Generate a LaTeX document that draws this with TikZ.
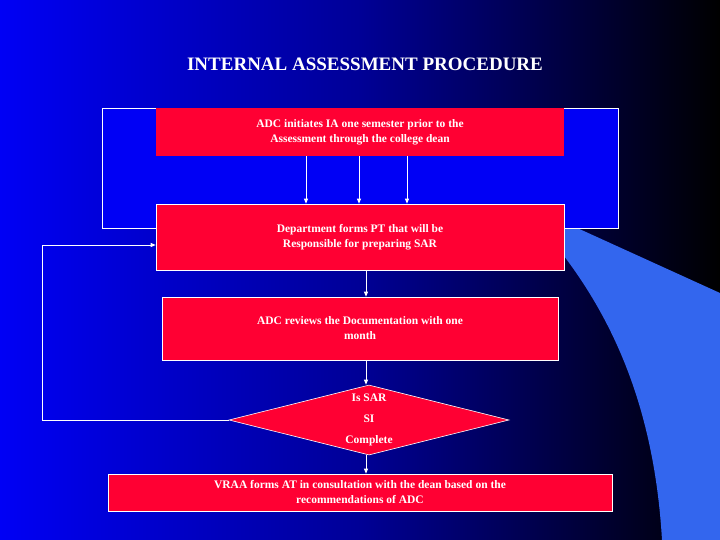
\documentclass[tikz,border=0pt]{standalone}
\usepackage{fontspec}
\setmainfont{Liberation Serif}
\usetikzlibrary{shapes.geometric,arrows.meta}
\definecolor{bgblue}{RGB}{0,0,245}
\definecolor{boxred}{RGB}{255,0,51}
\definecolor{swoosh}{RGB}{51,102,238}
\begin{document}
\begin{tikzpicture}[x=1pt,y=-1pt,
  rbox/.style={fill=boxred,draw=white,line width=0.6pt,text=white,font=\bfseries\fontsize{11.5}{15}\selectfont,align=center,inner sep=0pt},
  conn/.style={draw=white,line width=0.8pt,-{Triangle[length=5pt,width=4pt]}}]
\useasboundingbox (0,0) rectangle (720,540);
\shade[left color=bgblue,right color=black,middle color={rgb,255:red,0;green,0;blue,150}] (0,0) rectangle (720,540);
\fill[swoosh] (564,222) -- (720,293) -- (720,540) -- (662,540) .. controls (655,420) and (620,330) .. (564,256) -- cycle;
\node[text=white,font=\bfseries\fontsize{19}{22}\selectfont] (title) at (365,64) {INTERNAL ASSESSMENT PROCEDURE};
\node[draw=white,fill=bgblue,line width=0.6pt,minimum width=516pt,minimum height=120pt,inner sep=0pt] (frame) at (360,168) {};
\node[rbox,draw=none,minimum width=408pt,minimum height=48pt] (b1) at (360,132) {ADC initiates IA one semester prior to the\\Assessment through the college dean};
\node[rbox,minimum width=408pt,minimum height=66pt] (b2) at (360,237) {Department forms PT that will be\\Responsible for preparing SAR};
\node[rbox,minimum width=396pt,minimum height=63pt] (b3) at (360,328.5) {ADC reviews the Documentation with one\\month};
\node[diamond,fill=boxred,draw=white,line width=0.6pt,minimum width=280pt,minimum height=70pt,inner sep=0pt] (d) at (369,420) {};
\node[text=white,font=\bfseries\fontsize{11.5}{21}\selectfont,align=center] (dt) at (369,420) {Is SAR\\SI\\Complete};
\node[rbox,minimum width=504pt,minimum height=37pt] (b4) at (360,492.5) {VRAA forms AT in consultation with the dean based on the\\recommendations of ADC};
\draw[conn] (b1.south -| 306,0) -- (b2.north -| 306,0);
\draw[conn] (b1.south -| 359,0) -- (b2.north -| 359,0);
\draw[conn] (b1.south -| 407,0) -- (b2.north -| 407,0);
\draw[conn] (b2.south -| 366,0) -- (b3.north -| 366,0);
\draw[conn] (b3.south -| 366,0) -- (d.north -| 366,0);
\draw[conn] (d.south -| 366,0) -- (b4.north -| 366,0);
\coordinate (lp) at (42,420);
\draw[conn] (d.west) -- (lp) |- (b2.west |- 0,245);
\end{tikzpicture}
\end{document}
